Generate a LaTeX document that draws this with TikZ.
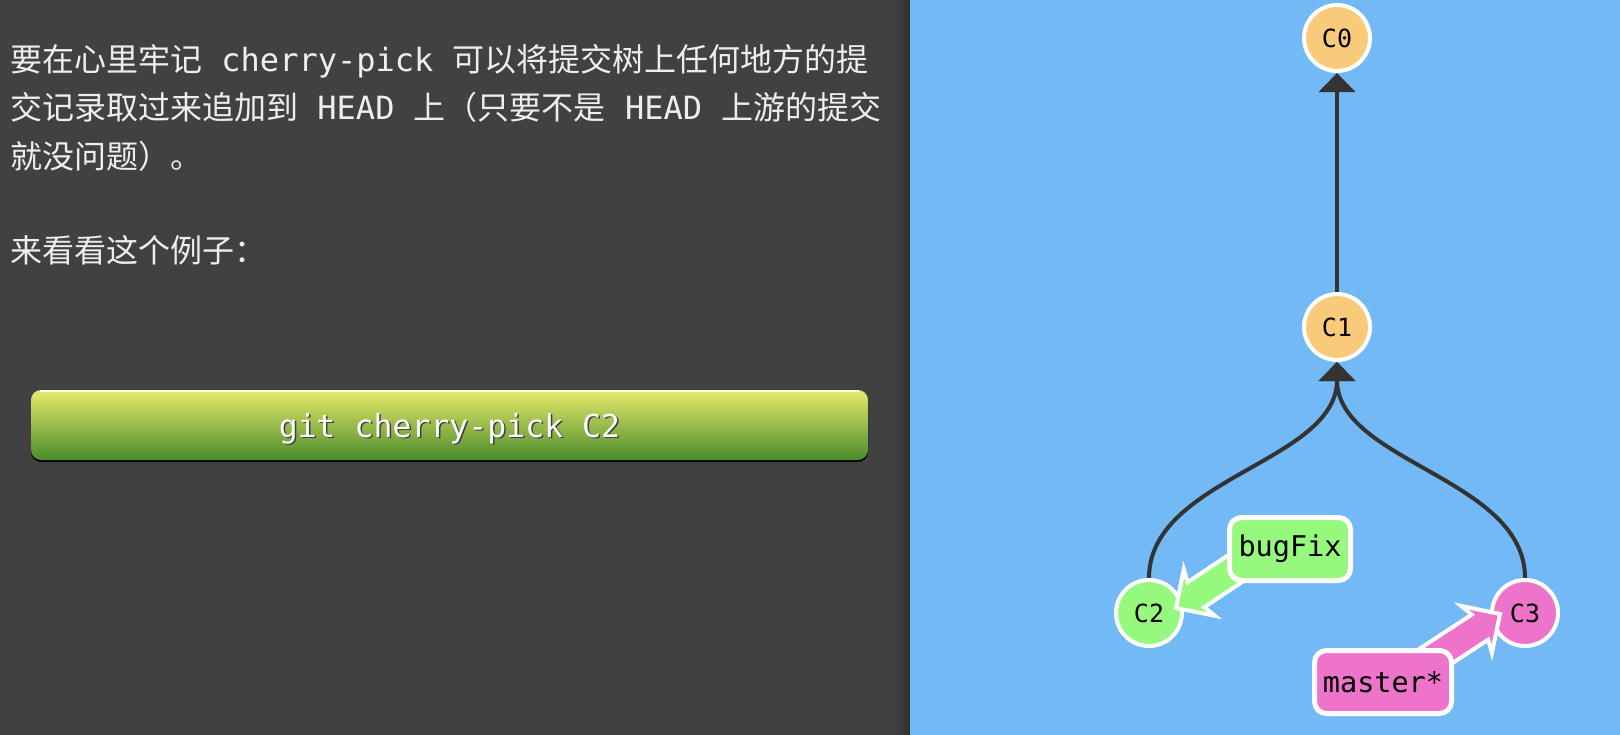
\documentclass[tikz,border=0pt]{standalone}
\usepackage{fontspec}
\setmainfont{DejaVu Sans Mono}
\newfontfamily\cjkf{Noto Sans CJK SC}
\usetikzlibrary{arrows.meta,calc}
\definecolor{panel}{RGB}{65,65,65}
\definecolor{panelshade}{RGB}{48,48,48}
\definecolor{sky}{RGB}{115,185,245}
\definecolor{txtc}{RGB}{238,238,238}
\definecolor{edgec}{RGB}{51,51,51}
\definecolor{orangec}{RGB}{248,202,122}
\definecolor{greenc}{RGB}{150,249,126}
\definecolor{pinkc}{RGB}{238,116,203}
\definecolor{btntop}{RGB}{230,234,107}
\definecolor{btnmid}{RGB}{160,192,64}
\definecolor{btnbot}{RGB}{75,139,43}
\pgfdeclarelayer{back}\pgfdeclarelayer{mid}\pgfdeclarelayer{front}
\pgfsetlayers{back,mid,main,front}
\begin{document}
\begin{tikzpicture}[x=1pt,y=-1pt,
  commit/.style={circle, minimum size=66pt, inner sep=0pt, draw=white, line width=4pt, text=black, font=\fontsize{25}{25}\selectfont},
  branchbox/.style={rounded corners=12pt, draw=white, line width=5pt, minimum height=63pt, inner sep=0pt, text=black, font=\fontsize{28.5}{29}\selectfont},
  edge/.style={draw=edgec, line width=4pt, -{Triangle[width=36pt,length=19pt]}},
  barrow/.style={draw=white, line width=4pt, line join=miter, miter limit=10},
  ltext/.style={anchor=base west, inner sep=0pt, text=txtc, font=\fontsize{32}{32}\selectfont},
  btntext/.style={anchor=base, inner sep=0pt, font=\fontsize{31.5}{32}\selectfont}]
\useasboundingbox (0,0) rectangle (1620,734);
\begin{pgfonlayer}{back}
\fill[panel] (-5,-5) rectangle (910,740);
\shade[left color=panel, right color=panelshade] (894,-5) rectangle (910,740);
\fill[sky] (910,-5) rectangle (1625,740);
\end{pgfonlayer}
% left text
\node[ltext] (t1) at (10,71) {{\cjkf 要在心里牢记} cherry-pick {\cjkf 可以将提交树上任何地方的提}};
\node[ltext] (t2) at (10,119) {{\cjkf 交记录取过来追加到} HEAD {\cjkf 上（只要不是} HEAD {\cjkf 上游的提交}};
\node[ltext] (t3) at (10,168) {{\cjkf 就没问题）。}};
\node[ltext] (t4) at (10,262) {{\cjkf 来看看这个例子：}};
% button
\fill[black, rounded corners=10pt] (31,393) rectangle (868,462);
\shade[rounded corners=10pt, top color=btntop, middle color=btnmid, bottom color=btnbot] (31,390) rectangle (868,460);
\draw[white!80!btntop, line width=1.5pt] (40,391) -- (859,391);
\node[btntext, text=black!75] (btnsh) at (451,438.5) {git cherry-pick C2};
\node[btntext, text=white] (btn) at (449.5,437) {git cherry-pick C2};
% commits
\node[commit, fill=orangec] (C0) at (1337,38) {C0};
\node[commit, fill=orangec] (C1) at (1337,327) {C1};
\node[commit, fill=greenc] (C2) at (1149,613) {C2};
\node[commit, fill=pinkc] (C3) at (1525,613) {C3};
\begin{pgfonlayer}{mid}
\draw[edge] (C1.north) -- (C0.south);
\draw[edge] (C2.north) .. controls +(0,-100) and +(0,100) .. (C1.south);
\draw[edge] (C3.north) .. controls +(0,-100) and +(0,100) .. (C1.south);
\end{pgfonlayer}
% branch labels
\begin{pgfonlayer}{front}
\node[branchbox, fill=greenc, minimum width=121pt] (bf) at (1290,549) {bugFix};
\node[branchbox, fill=pinkc, minimum width=137pt] (ms) at (1383,682) {master*};
\end{pgfonlayer}
\coordinate (tip2) at ($(C2.center)+(27,-5)$);
\coordinate (tip3) at ($(C3.center)+(-25,1)$);
\coordinate (bft) at ($(bf.center)+(-30,3)$);
\coordinate (mst) at ($(ms.center)+(33,-13)$);
\path ($(tip2)!28pt!(bft)$) coordinate (h2) ($(tip2)!24pt!(bft)$) coordinate (n2);
\path ($(tip3)!28pt!(mst)$) coordinate (h3) ($(tip3)!24pt!(mst)$) coordinate (n3);
\draw[barrow, fill=greenc] (tip2) -- ($(h2)!28pt!90:(bft)$) -- ($(n2)!15pt!90:(bft)$) -- ($(bft)!15pt!-90:(tip2)$) -- ($(bft)!15pt!90:(tip2)$) -- ($(n2)!15pt!-90:(bft)$) -- ($(h2)!28pt!-90:(bft)$) -- cycle;
\draw[barrow, fill=pinkc] (tip3) -- ($(h3)!28pt!90:(mst)$) -- ($(n3)!15pt!90:(mst)$) -- ($(mst)!15pt!-90:(tip3)$) -- ($(mst)!15pt!90:(tip3)$) -- ($(n3)!15pt!-90:(mst)$) -- ($(h3)!28pt!-90:(mst)$) -- cycle;
\end{tikzpicture}
\end{document}
